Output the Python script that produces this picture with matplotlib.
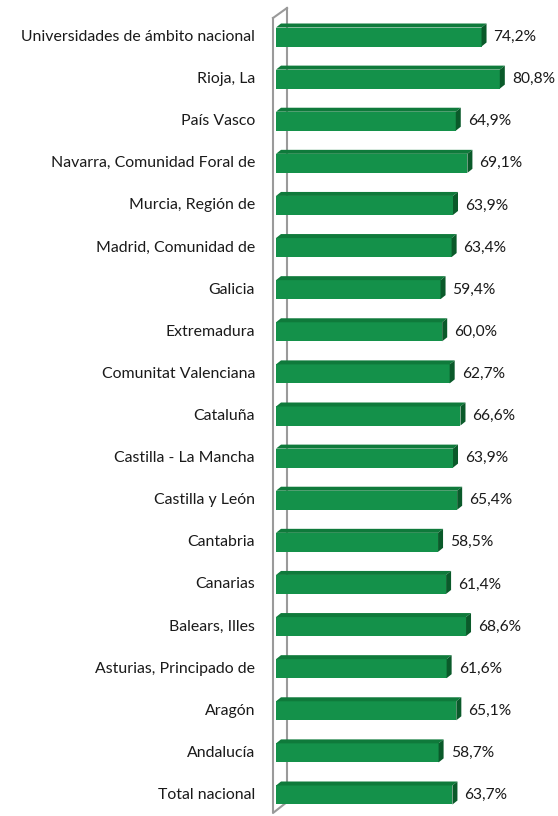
import matplotlib
matplotlib.use("Agg")
import matplotlib.pyplot as plt
from matplotlib.patches import Polygon

regiones = [
    "Universidades de ámbito nacional",
    "Rioja, La",
    "País Vasco",
    "Navarra, Comunidad Foral de",
    "Murcia, Región de",
    "Madrid, Comunidad de",
    "Galicia",
    "Extremadura",
    "Comunitat Valenciana",
    "Cataluña",
    "Castilla - La Mancha",
    "Castilla y León",
    "Cantabria",
    "Canarias",
    "Balears, Illes",
    "Asturias, Principado de",
    "Aragón",
    "Andalucía",
    "Total nacional",
]
tasa = [74.2, 80.8, 64.9, 69.1, 63.9, 63.4, 59.4, 60.0, 62.7, 66.6,
        63.9, 65.4, 58.5, 61.4, 68.6, 61.6, 65.1, 58.7, 63.7]

FRONT = "#14914a"
TOP = "#0f7a3b"
SIDE = "#0a5a2a"
WALL = "#9a9a9a"

W, H = 558, 816
fig = plt.figure(figsize=(W / 100, H / 100), dpi=100)
x0 = 276
ax = fig.add_axes([x0 / W, 0, 1 - x0 / W, 1])
px_per_pct = 2.77
ax.set_xlim(0, (W - x0) / px_per_pct)
step = 42.11
ax.set_ylim(-21 / step, 18 + 37 / step)
ax.axis("off")

# depth of the 3d faces, in data units
dx = 5 / px_per_pct
dy = 4 / step
h = 19 / step

n = len(tasa)
ys = [n - 1 - i for i in range(n)]

# side wall behind the bars
wl = -3 / px_per_pct
wr = 11 / px_per_pct
y_top = 18 + (37 - 18) / step
y_top_back = 18 + (37 - 8) / step
y_bot = -(813 - 795) / step
y_bot_back = -(802 - 795) / step
ax.plot([wr, wr], [y_bot_back, y_top_back], color=WALL, lw=1.5, zorder=1,
        clip_on=False)
ax.plot([wl, wl, wr], [y_top, y_bot, y_bot_back], color=WALL, lw=1.5,
        zorder=1, clip_on=False)
ax.plot([wl, wr], [y_top, y_top_back], color=WALL, lw=1.5, zorder=1,
        clip_on=False)

for y, v, name in zip(ys, tasa, regiones):
    yb, yt = y - h / 2, y + h / 2
    ax.barh(y, v, height=h, color=FRONT, zorder=3)
    ax.add_patch(Polygon([(0, yt), (v, yt), (v + dx, yt + dy), (dx, yt + dy)],
                         closed=True, facecolor=TOP, edgecolor="none", zorder=3))
    ax.add_patch(Polygon([(v, yb), (v, yt), (v + dx, yt + dy), (v + dx, yb + dy)],
                         closed=True, facecolor=SIDE, edgecolor="none", zorder=3))
    ax.text(v + dx + 7 / px_per_pct, y, f"{v:.1f}%".replace(".", ","),
            va="center", ha="left", fontsize=11.2, family="Lato", color="#1a1a1a")
    ax.text(-21 / px_per_pct, y, name, va="center", ha="right", fontsize=11.4,
            family="Lato", color="#1a1a1a", clip_on=False)

fig.savefig("out.png", dpi=100)
